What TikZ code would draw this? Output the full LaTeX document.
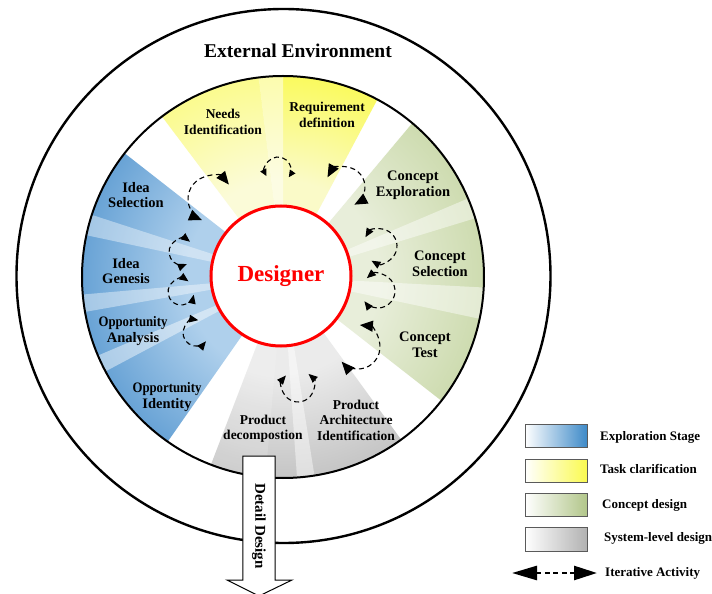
\documentclass[tikz,border=0pt]{standalone}
\usepackage{fontspec}
\setmainfont{Liberation Serif}
\usepackage{graphicx}
\usetikzlibrary{arrows.meta,calc}
\definecolor{bIn}{RGB}{175,208,236}
\definecolor{bOut}{RGB}{50,128,196}
\definecolor{yIn}{RGB}{250,250,200}
\definecolor{yOut}{RGB}{250,250,70}
\definecolor{gIn}{RGB}{232,238,218}
\definecolor{gOut}{RGB}{185,205,143}
\definecolor{kIn}{RGB}{235,235,235}
\definecolor{kOut}{RGB}{168,168,168}
\definecolor{legBlue}{RGB}{62,138,200}
\definecolor{legYellow}{RGB}{250,250,80}
\definecolor{legGreen}{RGB}{178,198,138}
\definecolor{legGray}{RGB}{178,178,178}
\definecolor{legEdge}{RGB}{90,90,90}
\pgfdeclareradialshading{bluerad}{\pgfpoint{0bp}{0bp}}{color(0bp)=(bIn); color(12bp)=(bIn); color(35bp)=(bOut); color(50bp)=(bOut)}
\pgfdeclareradialshading{yellowrad}{\pgfpoint{0bp}{0bp}}{color(0bp)=(yIn); color(12bp)=(yIn); color(28bp)=(yOut); color(50bp)=(yOut)}
\pgfdeclareradialshading{greenrad}{\pgfpoint{0bp}{0bp}}{color(0bp)=(gIn); color(12bp)=(gIn); color(35bp)=(gOut); color(50bp)=(gOut)}
\pgfdeclareradialshading{grayrad}{\pgfpoint{0bp}{0bp}}{color(0bp)=(kIn); color(12bp)=(kIn); color(35bp)=(kOut); color(50bp)=(kOut)}
\newcommand{\sectshade}[3]{\begin{scope}\clip (0,0) -- (#1:201) arc[start angle=#1, end angle=#2, radius=201] -- cycle; \shade[shading=#3] (0,0) circle[radius=201];\end{scope}}
\newcommand{\sectfill}[3]{\fill[#3] (0,0) -- (#1:201) arc[start angle=#1, end angle=#2, radius=201] -- cycle;}
\newcommand{\iterloop}[6]{\draw[#6] ($(#1,#2)+(#4:#3)$) arc[start angle=#4, end angle=#5, radius=#3];}
\tikzset{
  lbl/.style={font=\bfseries\fontsize{14.5}{15.5}\selectfont, align=center, inner sep=0pt},
  lbls/.style={font=\bfseries\fontsize{13.5}{15.5}\selectfont, align=center, inner sep=0pt},
  leg/.style={font=\bfseries\fontsize{13}{15}\selectfont, anchor=west, inner sep=0pt},
  legbox/.style={draw=legEdge, line width=0.8pt},
  loopbase/.style={line width=1.1pt, dash pattern=on 5pt off 3.5pt},
  loopL/.style={loopbase, {Triangle[length=13pt,width=11pt]}-{Triangle[length=13pt,width=11pt]}},
  loopM/.style={loopbase, {Triangle[length=9pt,width=7.5pt]}-{Triangle[length=9pt,width=7.5pt]}},
  loopS/.style={loopbase, {Triangle[length=7pt,width=6.5pt]}-{Triangle[length=7pt,width=6.5pt]}},
}
\begin{document}
\begin{tikzpicture}[x=1pt,y=1pt]
\useasboundingbox (-283,-317) rectangle (429,277);
\fill[white] (-283,-317) rectangle (429,277);
% outer environment circle
\draw[line width=2.4pt] (0.5,1) circle[radius=267];
\node[font=\bfseries\fontsize{19.5}{22}\selectfont, inner sep=0pt] (env) at (15,226) {External Environment};
% sectors
\sectshade{142}{235}{bluerad}
\sectshade{62}{127}{yellowrad}
\sectshade{-38}{50}{greenrad}
\sectshade{-111}{-54}{grayrad}
% lighter bands
\sectfill{97}{127}{white, opacity=0.3}
\sectfill{90}{97}{white, opacity=0.5}
\sectfill{50}{53}{white, opacity=0.6}
\sectfill{17}{23}{white, opacity=0.45}
\sectfill{-12}{-3}{white, opacity=0.45}
\sectfill{-86}{-81}{white, opacity=0.45}
\sectfill{-111}{-95}{white, opacity=0.15}
\sectfill{162}{168}{white, opacity=0.4}
\sectfill{185}{190}{white, opacity=0.4}
\sectfill{203}{208}{white, opacity=0.45}
% inner disk outline
\draw[line width=2pt] (0,0) circle[radius=201];
% designer
\node[circle, draw=red, line width=3pt, fill=white, minimum size=140pt, inner sep=0pt,
      text=red, font=\bfseries\fontsize{23}{25}\selectfont] (designer) at (-2,1) {Designer};
% stage labels
\node[lbls] (needs) at (-60,155) {Needs\\Identification};
\node[lbls] (req) at (44,162) {Requirement\\definition};
\node[lbl] (cexp) at (130,92) {Concept\\Exploration};
\node[lbl] (csel) at (157,13) {Concept\\Selection};
\node[lbl] (ctest) at (142,-68) {Concept\\Test};
\node[lbls] (parch) at (73,-143) {Product\\Architecture\\Identification};
\node[lbls] (pdec) at (-20,-152) {Product\\decompostion};
\node[lbl] (oident) at (-116,-120) {\scalebox{0.88}[1]{Opportunity}\\Identity};
\node[lbl] (oanal) at (-150,-54) {\scalebox{0.88}[1]{Opportunity}\\Analysis};
\node[lbl] (igen) at (-157,6) {Idea\\Genesis};
\node[lbl] (isel) at (-147,82) {Idea\\Selection};
% iterative loops
\iterloop{-72}{78}{23}{39}{247}{loopL}
\iterloop{-5}{107}{13}{208}{-34}{loopS}
\iterloop{62}{90}{20}{151}{-62}{loopL}
\iterloop{97}{31}{17}{149}{-120}{loopM}
\iterloop{95}{-14}{17}{131}{-143}{loopM}
\iterloop{75}{-70}{22}{85}{-138}{loopL}
\iterloop{15}{-109}{16}{139}{409}{loopM}
\iterloop{-87}{-56}{13}{80}{320}{loopM}
\iterloop{-102}{-15}{13}{55}{348}{loopM}
\iterloop{-101}{25}{13}{52}{292}{loopM}
% detail design arrow
\draw[fill=white, line width=1pt] (-40,-179) -- (-8,-179) -- (-8,-303) -- (9,-303)
  -- (-24,-319) -- (-56,-303) -- (-40,-303) -- cycle;
\node[font=\bfseries\fontsize{15}{17}\selectfont, rotate=-90, inner sep=0pt] (detail) at (-24,-249) {Detail Design};
% legend
\shade[left color=white, right color=legBlue] (242,-147) rectangle (304,-170);
\draw[legbox] (242,-147) rectangle (304,-170);
\shade[left color=white, right color=legYellow] (242,-182) rectangle (304,-205);
\draw[legbox] (242,-182) rectangle (304,-205);
\shade[left color=white, right color=legGreen] (242,-216) rectangle (304,-239);
\draw[legbox] (242,-216) rectangle (304,-239);
\shade[left color=white, right color=legGray] (242,-250) rectangle (304,-274);
\draw[legbox] (242,-250) rectangle (304,-274);
\node[leg] (l1) at (317,-160) {Exploration Stage};
\node[leg] (l2) at (317,-192) {Task clarification};
\node[leg] (l3) at (319,-228) {Concept design};
\node[leg] (l4) at (321,-261) {System-level design};
\coordinate (ia) at (229,-296);
\coordinate (ib) at (314,-296);
\draw[line width=2.6pt, dash pattern=on 5pt off 3.5pt,
  {Triangle[length=25pt,width=14pt]}-{Triangle[length=23pt,width=14pt]}] (ia) -- (ib);
\node[leg] (l5) at (322,-296) {Iterative Activity};
\end{tikzpicture}
\end{document}
